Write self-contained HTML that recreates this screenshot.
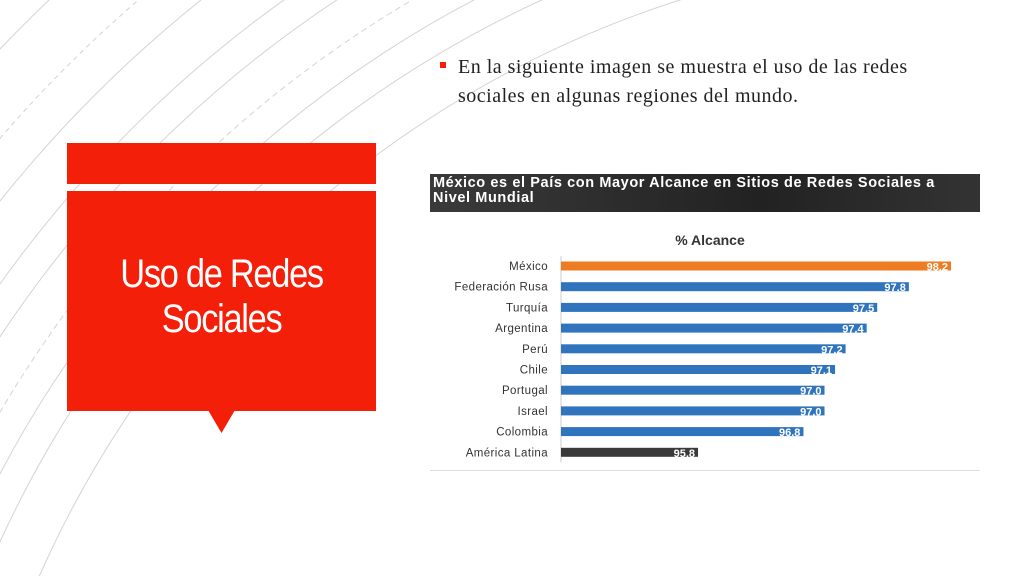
<!DOCTYPE html>
<html style="overflow:hidden"><head><meta charset="utf-8">
<style>
html,body{margin:0;width:1024px;height:576px;overflow:hidden;background:#fff;font-family:"Liberation Sans",sans-serif;position:relative}
.abs{position:absolute}
</style></head><body>
<svg class="abs" style="left:0;top:0" width="1024" height="576">
<g fill="none" stroke="#d4d4d4" stroke-width="1">
<circle cx="1000" cy="1000" r="1100"/>
<circle cx="1000" cy="1000" r="1130"/>
<circle cx="1000" cy="1000" r="1160" stroke-dasharray="6 4"/>
<circle cx="1000" cy="1000" r="1200"/>
<circle cx="1000" cy="1000" r="1230"/>
<circle cx="1000" cy="1000" r="1280"/>
<circle cx="1000" cy="1000" r="1320" stroke-dasharray="5 4"/>
<circle cx="1000" cy="1000" r="1380"/>
<circle cx="1000" cy="1000" r="1050"/>
<circle cx="1300" cy="900" r="420"/>
<circle cx="1300" cy="900" r="400"/>
</g>
</svg>
<div class="abs" style="left:67px;top:143px;width:309px;height:41px;background:#f41f08"></div>
<div class="abs" style="left:67px;top:191px;width:309px;height:220px;background:#f41f08"></div>
<svg class="abs" style="left:208px;top:410px" width="28" height="24"><polygon points="0,0 27,0 13.5,23" fill="#f41f08"/></svg>
<div class="abs" style="left:67px;top:252px;width:309px;text-align:center;color:#fff;font-size:40px;line-height:45px;letter-spacing:-1.5px;transform:scaleX(0.86);transform-origin:155px 0">Uso de Redes<br>Sociales</div>
<div class="abs" style="left:440px;top:62px;width:6px;height:6px;background:#f41f08"></div>
<div class="abs" style="left:458px;top:53px;width:490px;font-family:'Liberation Serif',serif;font-size:20px;letter-spacing:0.5px;line-height:29px;color:#222">En la siguiente imagen se muestra el uso de las redes sociales en algunas regiones del mundo.</div>
<div class="abs" style="left:430px;top:174px;width:550px;height:38px;background:linear-gradient(90deg,#3a3a3a,#222 60%,#333);color:#fff;font-weight:bold;font-size:14.5px;letter-spacing:0.6px;line-height:15px;padding:2px 30px 0 3px;box-sizing:border-box;overflow:hidden">México es el País con Mayor Alcance en Sitios de Redes Sociales a Nivel Mundial</div>
<div class="abs" style="left:430px;top:470px;width:550px;height:1px;background:#ddd"></div>
<svg class="abs" id="chart" style="left:0;top:0" width="1024" height="576"></svg>
<script>
const categories=["México","Federación Rusa","Turquía","Argentina","Perú","Chile","Portugal","Israel","Colombia","América Latina"];
const values=[98.2,97.8,97.5,97.4,97.2,97.1,97.0,97.0,96.8,95.8];
const labels=["98.2","97.8","97.5","97.4","97.2","97.1","97.0","97.0","96.8","95.8"];
const colors=["#ee7c22","#2f74bd","#2f74bd","#2f74bd","#2f74bd","#2f74bd","#2f74bd","#2f74bd","#2f74bd","#3a3a3a"];
const svg=document.getElementById('chart');const NS="http://www.w3.org/2000/svg";
const x0=561,xmin=94.5,xmax=98.2,x1=951;
const xs=v=>x0+(v-xmin)/(xmax-xmin)*(x1-x0);
const y0=266,step=20.7;const ys=i=>y0+i*step;
function mk(t,a){const e=document.createElementNS(NS,t);for(const k in a)e.setAttribute(k,a[k]);svg.appendChild(e);return e;}
const tt=mk('text',{x:710,y:245,'text-anchor':'middle','font-size':14,'font-weight':'bold',fill:'#333','font-family':'Liberation Sans, sans-serif'});tt.textContent="% Alcance";


const ax=mk('line',{x1:561,y1:ys(0)-10,x2:561,y2:ys(9)+10,stroke:'#ccc'});


categories.forEach((c,i)=>{
 const y=ys(i);
 const r=mk('rect',{x:x0,y:y-4.5,width:xs(values[i])-x0,height:9,fill:colors[i]});
 
 
 const t=mk('text',{x:548,y:y+4,'text-anchor':'end','font-size':11.5,'letter-spacing':0.4,fill:'#333','font-family':'Liberation Sans, sans-serif'});t.textContent=c;
 
 
 const v=mk('text',{x:xs(values[i])-3,y:y+4.5,'text-anchor':'end','font-size':11,'font-weight':'bold',fill:'#fff','font-family':'Liberation Sans, sans-serif'});v.textContent=labels[i];
 
 
});
</script>
</body></html>
